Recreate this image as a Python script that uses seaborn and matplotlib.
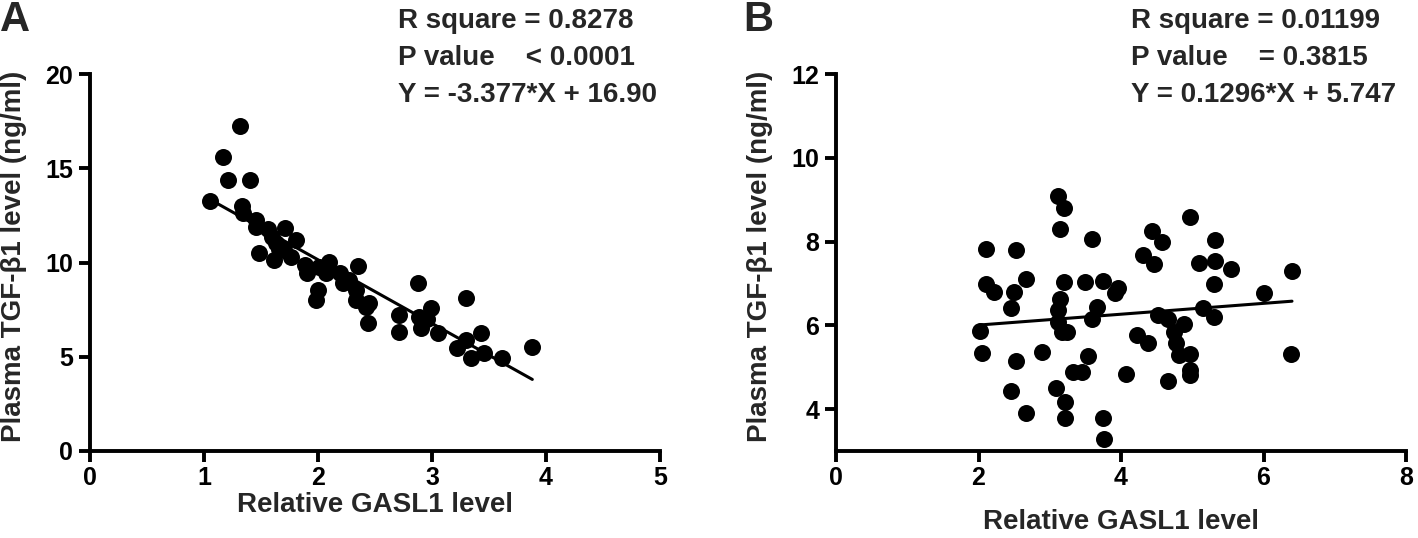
import matplotlib
matplotlib.use("Agg")
import matplotlib.pyplot as plt
import numpy as np
import pandas as pd
import seaborn as sns

# Panel A: GASL1 vs TGF-b1 (negative correlation)
gasl1_a = [1.32, 1.17, 1.21, 1.40, 1.05, 1.33, 1.34, 1.46, 1.46, 1.56, 1.71, 1.60,
           1.81, 1.63, 1.48, 1.61, 1.70, 1.76, 1.66, 1.89, 1.90, 2.01, 2.10, 2.35,
           2.07, 2.19, 2.22, 2.00, 1.98, 2.33, 2.33, 2.45, 2.42, 2.44, 2.71, 2.71,
           2.88, 2.99, 2.89, 2.90, 2.96, 3.05, 3.30, 3.43, 3.30, 3.22, 3.34, 3.46,
           3.61, 3.88, 2.27]
tgf_a = [17.26, 15.58, 14.38, 14.38, 13.28, 13.00, 12.61, 12.25, 11.90, 11.76, 11.85, 11.37,
         11.19, 11.02, 10.52, 10.13, 10.66, 10.31, 10.74, 9.87, 9.43, 9.78, 10.04, 9.83,
         9.43, 9.43, 8.90, 8.54, 8.01, 8.54, 8.01, 7.83, 7.66, 6.81, 7.21, 6.33,
         8.93, 7.57, 7.13, 6.51, 7.00, 6.24, 8.13, 6.24, 5.89, 5.45, 4.92, 5.18,
         4.92, 5.53, 9.07]
slope_a, intercept_a = -3.377, 16.90
stats_a = ["R square = 0.8278", "P value    < 0.0001", "Y = -3.377*X + 16.90"]

# Panel B: GASL1 vs TGF-b1 (no correlation)
gasl1_b = [3.11, 3.20, 3.15, 3.59, 2.11, 2.53, 4.97, 4.43, 4.58, 5.32, 4.31, 4.47,
           5.10, 5.32, 5.54, 6.40, 2.10, 2.22, 2.66, 2.50, 2.45, 3.20, 3.50, 3.75,
           3.91, 3.96, 5.30, 6.00, 3.14, 3.12, 3.12, 3.17, 3.24, 3.66, 3.59, 5.15,
           5.31, 2.02, 2.05, 2.52, 2.89, 2.45, 2.66, 3.09, 3.21, 3.22, 3.75, 3.76,
           3.33, 3.45, 3.54, 4.07, 4.66, 4.97, 4.97, 4.52, 4.66, 4.89, 4.74, 4.22,
           4.38, 4.77, 4.82, 4.97, 6.38]
tgf_b = [9.09, 8.79, 8.30, 8.06, 7.82, 7.81, 8.59, 8.25, 8.00, 8.04, 7.69, 7.46,
         7.48, 7.54, 7.34, 7.30, 6.99, 6.80, 7.10, 6.80, 6.41, 7.04, 7.04, 7.06,
         6.76, 6.88, 6.98, 6.78, 6.64, 6.37, 6.09, 5.85, 5.85, 6.44, 6.14, 6.41,
         6.21, 5.87, 5.35, 5.15, 5.36, 4.43, 3.90, 4.50, 4.18, 3.79, 3.79, 3.28,
         4.89, 4.89, 5.27, 4.83, 4.67, 4.93, 4.81, 6.25, 6.14, 6.03, 5.85, 5.77,
         5.58, 5.57, 5.29, 5.31, 5.32]
slope_b, intercept_b = 0.1296, 5.747
stats_b = ["R square = 0.01199", "P value    = 0.3815", "Y = 0.1296*X + 5.747"]

x_label = "Relative GASL1 level"
y_label = "Plasma TGF-\u03b21 level (ng/ml)"

sns.set_theme(style="ticks")
plt.rcParams["font.family"] = ["Liberation Sans", "DejaVu Sans"]
plt.rcParams["font.weight"] = "bold"

W, H = 1418, 538
fig = plt.figure(figsize=(W / 100, H / 100), dpi=100)
ax_a = fig.add_axes([90 / W, 1 - 451 / H, 570 / W, 377 / H])
ax_b = fig.add_axes([836 / W, 1 - 451 / H, 570 / W, 377 / H])


def draw_panel(ax, xs, ys, slope, intercept, xlim, ylim, xticks, yticks):
    df = pd.DataFrame({"x": xs, "y": ys})
    sns.scatterplot(data=df, x="x", y="y", ax=ax, color="black", s=150,
                    edgecolor="black", linewidth=0, zorder=3)
    line_x = np.array([df["x"].min(), df["x"].max()])
    line_df = pd.DataFrame({"x": line_x, "y": slope * line_x + intercept})
    sns.lineplot(data=line_df, x="x", y="y", ax=ax, color="black", linewidth=2.2, zorder=2)
    ax.set_xlim(*xlim)
    ax.set_ylim(*ylim)
    ax.set_xticks(xticks)
    ax.set_yticks(yticks)
    ax.set_ylabel(y_label, fontsize=20, fontweight="bold")
    ax.yaxis.set_label_coords(-0.11, 0.515)
    sns.despine(ax=ax)
    for side in ("left", "bottom"):
        ax.spines[side].set_linewidth(2.8)
        ax.spines[side].set_color("black")
    ax.tick_params(axis="both", length=8, width=2.8, labelsize=18, color="black",
                   labelcolor="black")
    ax.tick_params(axis="x", pad=3)
    ax.tick_params(axis="y", pad=4)
    for lab in ax.get_xticklabels() + ax.get_yticklabels():
        lab.set_fontweight("bold")
    for coll in ax.collections:
        coll.set_clip_on(False)


draw_panel(ax_a, gasl1_a, tgf_a, slope_a, intercept_a, (0, 5), (0, 20),
           [0, 1, 2, 3, 4, 5], [0, 5, 10, 15, 20])
draw_panel(ax_b, gasl1_b, tgf_b, slope_b, intercept_b, (0, 8), (3, 12),
           [0, 2, 4, 6, 8], [4, 6, 8, 10, 12])

# x labels: A sits higher than B in the reference
ax_a.set_xlabel(x_label, fontsize=20, fontweight="bold")
ax_a.xaxis.set_label_coords(0.5, -(492 - 451) / 377)
ax_b.set_xlabel(x_label, fontsize=20, fontweight="bold")
ax_b.xaxis.set_label_coords(0.5, -(509 - 451) / 377)

fig.text(0 / W, 1.0, "A", fontsize=30, fontweight="bold", va="top", ha="left")
fig.text(743 / W, 1.0, "B", fontsize=30, fontweight="bold", va="top", ha="left")

for x0, lines in ((398, stats_a), (1131, stats_b)):
    for i, line in enumerate(lines):
        fig.text(x0 / W, 1 - (21 + 37 * i) / H, line, fontsize=20, fontweight="bold",
                 va="center", ha="left")

fig.savefig("out.png", dpi=100)
